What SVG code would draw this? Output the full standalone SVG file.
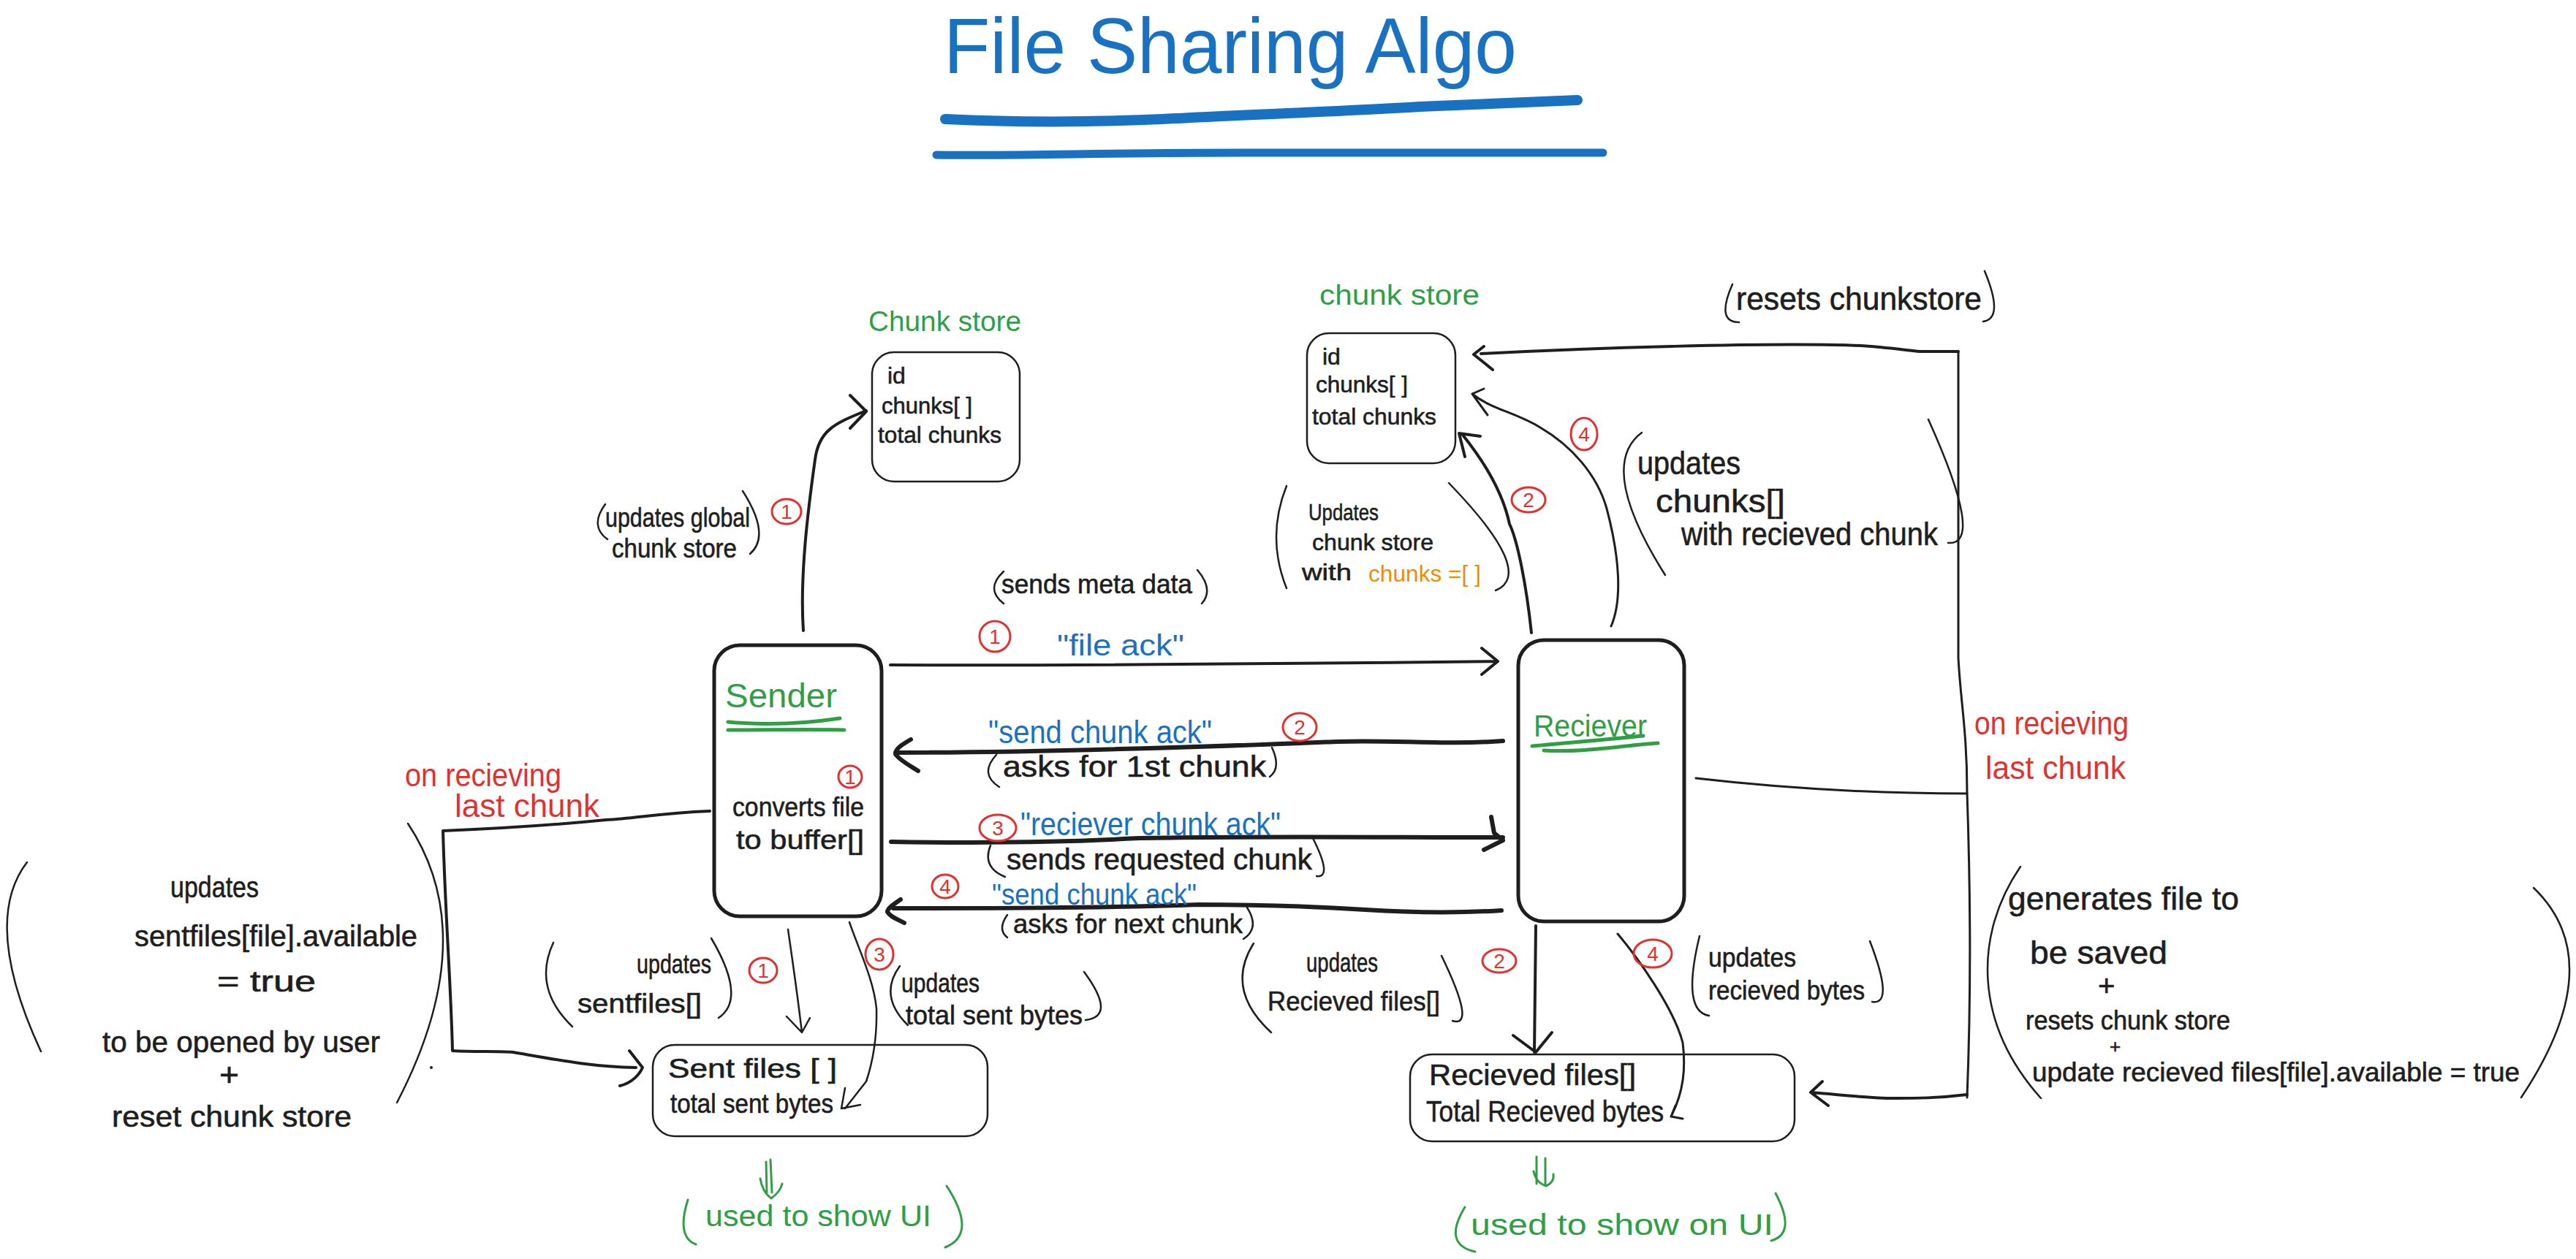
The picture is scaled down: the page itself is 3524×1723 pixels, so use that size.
<svg xmlns="http://www.w3.org/2000/svg" width="3524" height="1723" viewBox="0 0 3524 1723">
<style>
text{font-family:"Liberation Sans",Arial,sans-serif}
.k{fill:#1e1e1e;stroke:#1e1e1e;stroke-width:.6}.g{fill:#2f9e44}.b{fill:#1971c2}.r{fill:#e03131}.o{fill:#f08c00}
.s32{font-size:32px}.s36{font-size:36px}.s40{font-size:40px}.s44{font-size:44px}
.n{text-anchor:middle;font-size:28px;fill:#e03131}
.box{fill:none;stroke:#1e1e1e;stroke-width:2.5}
.hbox{fill:none;stroke:#1e1e1e;stroke-width:5}
.c{fill:none;stroke:#1e1e1e;stroke-linecap:round;stroke-linejoin:round}
.w2{stroke-width:2.5}.w3{stroke-width:3}.w4{stroke-width:4}.w6{stroke-width:6}
.p{fill:none;stroke:#1e1e1e;stroke-width:2.5;stroke-linecap:round}
.pg{fill:none;stroke:#2f9e44;stroke-width:3;stroke-linecap:round;stroke-linejoin:round}
.ul{fill:none;stroke:#2f9e44;stroke-width:5;stroke-linecap:round}
.bad{fill:none;stroke:#e03131;stroke-width:3}
.tl{fill:none;stroke:#1971c2;stroke-linecap:round}
</style>
<rect width="3524" height="1723" fill="#fff"/>

<g id="title">
<text x="1291" y="100" class="b" font-size="108" textLength="784" lengthAdjust="spacingAndGlyphs">File Sharing Algo</text>
<path class="tl" stroke-width="14" d="M1293 163C1400 168 1500 167 1590 163C1700 157 1830 153 1942 146C2020 143 2090 140 2158 137"/>
<path class="tl" stroke-width="11" d="M1281 212C1400 214 1500 209 1700 209C1900 209 2080 209 2193 209"/>
</g>

<g id="connectors">
<path class="c w4" d="M1099 863C1094 790 1105 700 1115 629C1120 590 1140 580 1185 562M1163 541L1185 563L1163 586"/>
<path class="c w4" d="M1218 910C1500 911 1800 908 2048 905M2027 887L2049 905L2027 923"/>
<path class="c w6" d="M2056 1014C1980 1020 1900 1012 1830 1015C1700 1020 1450 1030 1225 1030M1246 1012C1232 1020 1225 1025 1225 1032C1230 1040 1245 1048 1256 1055"/>
<path class="c w6" d="M1219 1152C1400 1155 1500 1150 1562 1147C1700 1144 1900 1146 2056 1146M2040 1118L2044 1140L2056 1150L2030 1163"/>
<path class="c w6" d="M2054 1246C1990 1250 1930 1249 1868 1245C1790 1240 1700 1238 1639 1238C1500 1243 1350 1243 1222 1243M1232 1231C1222 1238 1214 1243 1214 1248C1218 1255 1228 1258 1237 1263"/>
<path class="c w4" d="M2095 866C2088 800 2076 740 2065 717C2055 670 2025 625 2000 594M2025 597L1996 593L2004 625"/>
<path class="c w3" d="M2204 857C2220 820 2215 760 2198 696C2185 650 2150 610 2107 585C2075 565 2040 560 2014 539M2030 532L2014 539L2035 568"/>
<path class="c w3" d="M2679 481L2679 900C2682 960 2691 1000 2691 1085C2695 1200 2697 1350 2691 1502"/>
<path class="c w4" d="M2679 481L2626 481C2580 476 2550 472 2507 472C2400 470 2200 475 2026 484M2030 474L2016 485L2042 506"/>
<path class="c w3" d="M2320 1065C2450 1080 2570 1086 2691 1086"/>
<path class="c w4" d="M2691 1498C2650 1503 2620 1503 2592 1503C2550 1503 2510 1497 2477 1495M2493 1480L2477 1495L2501 1513"/>
<path class="c w4" d="M971 1110C900 1113 870 1120 829 1122C750 1130 680 1134 606 1137C609 1250 617 1350 619 1438C650 1440 680 1438 702 1440C760 1450 810 1460 870 1461M861 1438L879 1461C875 1470 865 1482 848 1486"/>
<path class="c w2" d="M1078 1272C1085 1320 1092 1370 1097 1413M1076 1391L1097 1413L1108 1393"/>
<path class="c w2" d="M1162 1262C1175 1300 1195 1340 1199 1380C1200 1420 1195 1450 1185 1480L1156 1517M1156 1489L1151 1517L1177 1512"/>
<path class="c w4" d="M2101 1267L2099 1440M2070 1417L2101 1440L2123 1413"/>
<path class="c w3" d="M2213 1278C2240 1310 2290 1380 2302 1427C2306 1460 2304 1493 2286 1528M2292 1513L2286 1528L2302 1531"/>
<path class="pg" d="M1054 1587L1056 1632M1048 1590L1049 1632M1040 1613C1042 1625 1048 1635 1055 1640C1062 1635 1068 1628 1070 1620"/>
<path class="pg" d="M2102 1583L2102 1620M2114 1585L2114 1622M2098 1603C2100 1612 2105 1620 2115 1623C2122 1620 2126 1615 2125 1607"/>
<circle cx="590" cy="1461" r="2" fill="#1e1e1e"/>
</g>

<g id="sender">
<rect class="hbox" x="977" y="883" width="229" height="371" rx="35"/>
<text x="992" y="968" class="g" font-size="46" textLength="153" lengthAdjust="spacingAndGlyphs">Sender</text>
<path class="ul" d="M996 988C1040 992 1090 992 1149 983M996 999C1050 999 1100 998 1155 999"/>
<text x="1002" y="1117" class="k s36" textLength="180" lengthAdjust="spacingAndGlyphs">converts file</text>
<text x="1007" y="1162" class="k s36" textLength="175" lengthAdjust="spacingAndGlyphs">to buffer[]</text>
<ellipse class="bad" cx="1163" cy="1063" rx="16" ry="15"/><text x="1163" y="1073" class="n">1</text>
</g>

<g id="receiver">
<rect class="hbox" x="2077" y="876" width="227" height="385" rx="35"/>
<text x="2098" y="1008" class="g" font-size="42" textLength="155" lengthAdjust="spacingAndGlyphs">Reciever</text>
<path class="ul" d="M2096 1021C2150 1016 2200 1012 2248 1007M2112 1027C2170 1030 2220 1020 2268 1017"/>
</g>

<g id="chunk-store-sender">
<rect class="box" x="1193" y="482" width="202" height="177" rx="30"/>
<text x="1188" y="453" class="g" font-size="38" textLength="209" lengthAdjust="spacingAndGlyphs">Chunk store</text>
<text x="1214" y="525" class="k s32">id</text>
<text x="1206" y="566" class="k s32" textLength="124" lengthAdjust="spacingAndGlyphs">chunks[ ]</text>
<text x="1201" y="606" class="k s32" textLength="169" lengthAdjust="spacingAndGlyphs">total chunks</text>
</g>

<g id="chunk-store-receiver">
<rect class="box" x="1788" y="456" width="203" height="178" rx="30"/>
<text x="1805" y="417" class="g" font-size="38" textLength="219" lengthAdjust="spacingAndGlyphs">chunk store</text>
<text x="1809" y="499" class="k s32">id</text>
<text x="1800" y="537" class="k s32" textLength="126" lengthAdjust="spacingAndGlyphs">chunks[ ]</text>
<text x="1795" y="581" class="k s32" textLength="170" lengthAdjust="spacingAndGlyphs">total chunks</text>
</g>

<g id="sent-files">
<rect class="box" x="893" y="1430" width="458" height="125" rx="30"/>
<text x="914" y="1475" class="k s36" textLength="231" lengthAdjust="spacingAndGlyphs">Sent files [ ]</text>
<text x="917" y="1523" class="k s36" textLength="223" lengthAdjust="spacingAndGlyphs">total sent bytes</text>
</g>

<g id="received-files">
<rect class="box" x="1929" y="1443" width="526" height="119" rx="30"/>
<text x="1955" y="1485" class="k s40" textLength="283" lengthAdjust="spacingAndGlyphs">Recieved files[]</text>
<text x="1951" y="1535" class="k s40" textLength="325" lengthAdjust="spacingAndGlyphs">Total Recieved bytes</text>
</g>

<g id="annotations">
<path class="p" d="M828 690Q806 720 831 738M1016 672Q1055 733 1026 758"/>
<text x="828" y="721" class="k s36" textLength="198" lengthAdjust="spacingAndGlyphs">updates global</text>
<text x="837" y="763" class="k s36" textLength="171" lengthAdjust="spacingAndGlyphs">chunk store</text>
<ellipse class="bad" cx="1076" cy="700" rx="20" ry="17"/><text x="1076" y="710" class="n">1</text>

<path class="p" d="M1373 782Q1347 806 1373 826M1638 780Q1661 807 1644 826"/>
<text x="1370" y="812" class="k s36" textLength="261" lengthAdjust="spacingAndGlyphs">sends meta data</text>
<ellipse class="bad" cx="1361" cy="871" rx="21" ry="21"/><text x="1361" y="881" class="n">1</text>
<text x="1446" y="897" class="b s40" textLength="174" lengthAdjust="spacingAndGlyphs">"file ack"</text>

<text x="1352" y="1017" class="b s44" textLength="306" lengthAdjust="spacingAndGlyphs">"send chunk ack"</text>
<ellipse class="bad" cx="1778" cy="995" rx="23" ry="19"/><text x="1778" y="1005" class="n">2</text>
<path class="p" d="M1363 1033Q1339 1059 1367 1077M1740 1023Q1753 1051 1737 1063"/>
<text x="1372" y="1063" class="k s40" textLength="360" lengthAdjust="spacingAndGlyphs">asks for 1st chunk</text>

<ellipse class="bad" cx="1365" cy="1133" rx="25" ry="18"/><text x="1365" y="1143" class="n">3</text>
<text x="1396" y="1143" class="b s44" textLength="356" lengthAdjust="spacingAndGlyphs">"reciever chunk ack"</text>
<path class="p" d="M1355 1157Q1343 1187 1375 1200M1795 1145Q1824 1202 1801 1199"/>
<text x="1377" y="1190" class="k s40" textLength="418" lengthAdjust="spacingAndGlyphs">sends requested chunk</text>

<ellipse class="bad" cx="1293" cy="1213" rx="18" ry="16"/><text x="1293" y="1223" class="n">4</text>
<text x="1357" y="1238" class="b s40" textLength="280" lengthAdjust="spacingAndGlyphs">"send chunk ack"</text>
<path class="p" d="M1378 1252Q1364 1272 1378 1283M1706 1242Q1724 1270 1701 1285"/>
<text x="1386" y="1277" class="k s36" textLength="314" lengthAdjust="spacingAndGlyphs">asks for next chunk</text>

<path class="p" d="M1760 665Q1732 735 1760 805M1982 661Q2102 785 2046 808"/>
<text x="1790" y="712" class="k s32" textLength="96" lengthAdjust="spacingAndGlyphs">Updates</text>
<text x="1795" y="753" class="k s32" textLength="166" lengthAdjust="spacingAndGlyphs">chunk store</text>
<text x="1781" y="794" class="k s32" textLength="68" lengthAdjust="spacingAndGlyphs">with</text>
<text x="1872" y="796" class="o s32" textLength="154" lengthAdjust="spacingAndGlyphs">chunks =[ ]</text>
<ellipse class="bad" cx="2091" cy="684" rx="23" ry="17"/><text x="2091" y="694" class="n">2</text>
<ellipse class="bad" cx="2167" cy="594" rx="18" ry="22"/><text x="2167" y="604" class="n">4</text>

<path class="p" d="M2246 592Q2184 638 2278 787M2638 574Q2716 747 2665 743"/>
<text x="2240" y="649" class="k s44" textLength="141" lengthAdjust="spacingAndGlyphs">updates</text>
<text x="2265" y="701" class="k s44" textLength="177" lengthAdjust="spacingAndGlyphs">chunks[]</text>
<text x="2300" y="746" class="k s44" textLength="351" lengthAdjust="spacingAndGlyphs">with recieved chunk</text>

<path class="p" d="M2370 389Q2347 441 2379 441M2715 371Q2742 436 2713 440"/>
<text x="2375" y="424" class="k s44" textLength="336" lengthAdjust="spacingAndGlyphs">resets chunkstore</text>

<text x="2701" y="1005" class="r s44" textLength="211" lengthAdjust="spacingAndGlyphs">on recieving</text>
<text x="2716" y="1066" class="r s44" textLength="192" lengthAdjust="spacingAndGlyphs">last chunk</text>

<path class="p" d="M2764 1186C2700 1280 2700 1400 2792 1503M3466 1215Q3572 1317 3449 1502"/>
<text x="2747" y="1245" class="k s44" textLength="316" lengthAdjust="spacingAndGlyphs">generates file to</text>
<text x="2777" y="1319" class="k s44" textLength="188" lengthAdjust="spacingAndGlyphs">be saved</text>
<text x="2870" y="1363" class="k s40">+</text>
<text x="2771" y="1409" class="k s36" textLength="280" lengthAdjust="spacingAndGlyphs">resets chunk store</text>
<text x="2886" y="1441" class="k" font-size="26">+</text>
<text x="2780" y="1480" class="k s36" textLength="667" lengthAdjust="spacingAndGlyphs">update recieved files[file].available = true</text>

<text x="554" y="1076" class="r s44" textLength="214" lengthAdjust="spacingAndGlyphs">on recieving</text>
<text x="622" y="1118" class="r s44" textLength="198" lengthAdjust="spacingAndGlyphs">last chunk</text>

<path class="p" d="M37 1180Q-26 1262 56 1439M558 1127Q661 1282 543 1509"/>
<text x="233" y="1228" class="k s40" textLength="121" lengthAdjust="spacingAndGlyphs">updates</text>
<text x="184" y="1295" class="k s40" textLength="387" lengthAdjust="spacingAndGlyphs">sentfiles[file].available</text>
<text x="297" y="1357" class="k s40" textLength="135" lengthAdjust="spacingAndGlyphs">= true</text>
<text x="140" y="1440" class="k s40" textLength="380" lengthAdjust="spacingAndGlyphs">to be opened by user</text>
<text x="300" y="1486" class="k s44" textLength="27" lengthAdjust="spacingAndGlyphs">+</text>
<text x="153" y="1542" class="k s40" textLength="328" lengthAdjust="spacingAndGlyphs">reset chunk store</text>

<path class="p" d="M757 1290Q728 1352 783 1405M973 1284Q1022 1367 983 1393"/>
<text x="871" y="1332" class="k s36" textLength="102" lengthAdjust="spacingAndGlyphs">updates</text>
<text x="790" y="1386" class="k s36" textLength="170" lengthAdjust="spacingAndGlyphs">sentfiles[]</text>
<ellipse class="bad" cx="1044" cy="1328" rx="19" ry="17"/><text x="1044" y="1338" class="n">1</text>
<ellipse class="bad" cx="1203" cy="1306" rx="19" ry="21"/><text x="1203" y="1316" class="n">3</text>

<path class="p" d="M1231 1322Q1201 1363 1242 1403M1483 1330Q1528 1391 1485 1396"/>
<text x="1233" y="1358" class="k s36" textLength="107" lengthAdjust="spacingAndGlyphs">updates</text>
<text x="1239" y="1402" class="k s36" textLength="242" lengthAdjust="spacingAndGlyphs">total sent bytes</text>

<path class="p" d="M1715 1291Q1675 1354 1739 1413M1972 1308Q2020 1407 1987 1397"/>
<text x="1787" y="1330" class="k s36" textLength="98" lengthAdjust="spacingAndGlyphs">updates</text>
<text x="1734" y="1383" class="k s36" textLength="236" lengthAdjust="spacingAndGlyphs">Recieved files[]</text>
<ellipse class="bad" cx="2051" cy="1315" rx="23" ry="16"/><text x="2051" y="1325" class="n">2</text>
<ellipse class="bad" cx="2261" cy="1305" rx="26" ry="19"/><text x="2261" y="1315" class="n">4</text>

<path class="p" d="M2325 1281Q2300 1384 2338 1390M2558 1288Q2592 1376 2561 1371"/>
<text x="2337" y="1323" class="k s36" textLength="120" lengthAdjust="spacingAndGlyphs">updates</text>
<text x="2337" y="1368" class="k s36" textLength="214" lengthAdjust="spacingAndGlyphs">recieved bytes</text>

<path class="pg" d="M941 1642Q925 1693 952 1703M1295 1623Q1338 1689 1293 1707"/>
<text x="965" y="1678" class="g s40" textLength="309" lengthAdjust="spacingAndGlyphs">used to show UI</text>
<path class="pg" d="M2004 1652Q1973 1703 2018 1713M2429 1633Q2458 1688 2423 1698"/>
<text x="2012" y="1690" class="g s40" textLength="414" lengthAdjust="spacingAndGlyphs">used to show on UI</text>
</g>
</svg>
